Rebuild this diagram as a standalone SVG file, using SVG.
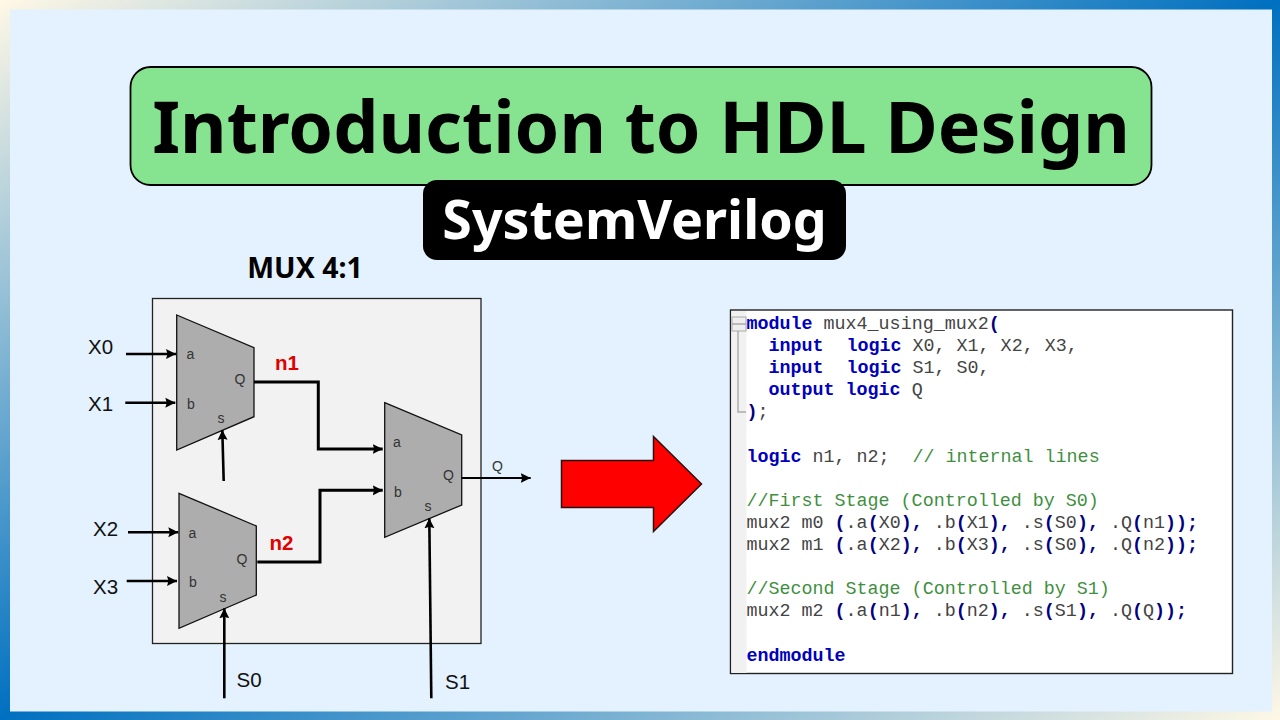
<svg xmlns="http://www.w3.org/2000/svg" width="1280" height="720" viewBox="0 0 1280 720">
<defs>
<linearGradient id="bg" x1="0" y1="0" x2="1" y2="1"><stop offset="0" stop-color="#fff8e6"/><stop offset="0.5" stop-color="#0070c0"/><stop offset="1" stop-color="#fff8e6"/></linearGradient>
<marker id="ah" markerUnits="userSpaceOnUse" markerWidth="12" markerHeight="12" refX="10" refY="6" orient="auto"><path d="M0 1L10 6L0 11L1.500 6Z" fill="#000"/></marker>
</defs>
<style>
.sans{font-family:"Liberation Sans",Arial,sans-serif}
.noto{font-family:"Noto Sans",sans-serif;font-weight:700}
.big{font-size:20.5px;fill:#111}
.pin{font-size:14px;fill:#333}
.net{font-size:20.5px;font-weight:700;fill:#e00000}
.mux{fill:#adadad;stroke:#111;stroke-width:1.300}
.w{fill:none;stroke:#000;stroke-width:2.600;marker-end:url(#ah)}
.code{font-family:"Liberation Mono","Courier New",monospace;font-size:18.35px;fill:#444}
.k{fill:#0000c0;font-weight:700}
.p{fill:#000080;font-weight:700}
.c{fill:#3f8f3f}
</style>
<rect width="1280" height="720" fill="url(#bg)"/>
<rect x="10" y="9.500" width="1262" height="702" fill="#e3f2fe"/>
<g id="title"><rect x="130.500" y="67" width="1021" height="118" rx="20" fill="#86e38f" stroke="#000" stroke-width="1.800"/><text class="noto" x="641" y="153" font-size="71.700" text-anchor="middle" fill="#000">Introduction to HDL Design</text></g>
<g id="subtitle"><rect x="423" y="180" width="423" height="80" rx="14" fill="#000"/><text class="noto" x="634.500" y="239" font-size="53.700" text-anchor="middle" fill="#fff">SystemVerilog</text></g>
<g id="mux-label"><text class="noto" x="305" y="278" font-size="28.500" text-anchor="middle" fill="#000">MUX 4:1</text></g>
<g id="frame"><rect x="152.500" y="298.500" width="328.500" height="345" fill="#f2f2f2" stroke="#222" stroke-width="1.300"/></g>
<g id="mux0"><path class="mux" d="M176.700 315L254 347.700V416.700L176.700 450Z"/><g class="sans pin"><text x="186.500" y="359">a</text><text x="187" y="409">b</text><text x="234.500" y="384">Q</text><text x="217.500" y="423">s</text></g></g>
<g id="mux1"><path class="mux" d="M179 493.300L256.300 526V595L179 628.300Z"/><g class="sans pin"><text x="188.500" y="538">a</text><text x="189" y="587">b</text><text x="236.500" y="564">Q</text><text x="219.500" y="602">s</text></g></g>
<g id="mux2"><path class="mux" d="M384.700 402.700L461.700 435V505L384.700 537.300Z"/><g class="sans pin"><text x="393" y="447">a</text><text x="394" y="497">b</text><text x="443" y="480">Q</text><text x="424.500" y="511">s</text></g></g>
<g id="connectors">
<path class="w" d="M126 354H176"/><path class="w" d="M125.300 402.700H175.300"/><path class="w" d="M128 532.300H178.300"/><path class="w" d="M126.700 581H177"/>
<path class="w" d="M223.700 481L222.300 430"/><path class="w" d="M224.300 698.300V608.300"/><path class="w" d="M431.300 698.300L429.300 518.300"/>
<path class="w" style="stroke-width:3" d="M254 382H318.300V449H382.700"/><path class="w" style="stroke-width:3" d="M257.300 562H320V490.300H382.700"/>
<path class="w" style="stroke-width:2" d="M461.700 478H530.700"/>
</g>
<g id="labels" class="sans">
<text class="big" x="88" y="353.500">X0</text><text class="big" x="88" y="411">X1</text><text class="big" x="93" y="535.500">X2</text><text class="big" x="93" y="593.500">X3</text>
<text class="big" x="236.500" y="687">S0</text><text class="big" x="445" y="689">S1</text>
<text class="pin" x="492" y="471">Q</text>
<text class="net" x="275" y="370">n1</text><text class="net" x="269.500" y="550">n2</text>
</g>
<g id="arrow"><path d="M561.500 460.500H653.500V436.500L701.500 484L653.500 531.500V507.500H561.500Z" fill="#fe0000" stroke="#2a1010" stroke-width="1.500"/></g>
<g id="code">
<rect x="730.500" y="310" width="502" height="363.500" fill="#fff" stroke="#222" stroke-width="1.400"/>
<rect x="731.500" y="311" width="15" height="362" fill="#f1f1f1"/>
<rect x="732" y="317" width="14" height="14" fill="#eee" stroke="#aaa" stroke-width="1"/>
<path d="M732 324H746M738 331V412H746" fill="none" stroke="#aaa" stroke-width="1.400"/>
<g class="code">
<text x="746.500" y="329"><tspan class="k">module</tspan> mux4_using_mux2<tspan class="p">(</tspan></text>
<text x="768.500" y="351.100"><tspan class="k">input</tspan><tspan class="k" x="846.500">logic</tspan> X0, X1, X2, X3,</text>
<text x="768.500" y="373.200"><tspan class="k">input</tspan><tspan class="k" x="846.500">logic</tspan> S1, S0,</text>
<text x="768.500" y="395.300"><tspan class="k">output</tspan> <tspan class="k">logic</tspan> Q</text>
<text x="746.500" y="417.400"><tspan class="p">)</tspan>;</text>
<text x="746.500" y="461.600"><tspan class="k">logic</tspan> n1, n2;<tspan class="c" x="912.500">// internal lines</tspan></text>
<text x="746.500" y="505.800" class="c">//First Stage (Controlled by S0)</text>
<text x="746.500" y="527.900">mux2 m0 <tspan class="p">(</tspan>.a<tspan class="p">(</tspan>X0<tspan class="p">),</tspan> .b<tspan class="p">(</tspan>X1<tspan class="p">),</tspan> .s<tspan class="p">(</tspan>S0<tspan class="p">),</tspan> .Q<tspan class="p">(</tspan>n1<tspan class="p">));</tspan></text>
<text x="746.500" y="550">mux2 m1 <tspan class="p">(</tspan>.a<tspan class="p">(</tspan>X2<tspan class="p">),</tspan> .b<tspan class="p">(</tspan>X3<tspan class="p">),</tspan> .s<tspan class="p">(</tspan>S0<tspan class="p">),</tspan> .Q<tspan class="p">(</tspan>n2<tspan class="p">));</tspan></text>
<text x="746.500" y="594.200" class="c">//Second Stage (Controlled by S1)</text>
<text x="746.500" y="616.300">mux2 m2 <tspan class="p">(</tspan>.a<tspan class="p">(</tspan>n1<tspan class="p">),</tspan> .b<tspan class="p">(</tspan>n2<tspan class="p">),</tspan> .s<tspan class="p">(</tspan>S1<tspan class="p">),</tspan> .Q<tspan class="p">(</tspan>Q<tspan class="p">));</tspan></text>
<text x="746.500" y="660.500" class="k">endmodule</text>
</g>
</g>
</svg>
